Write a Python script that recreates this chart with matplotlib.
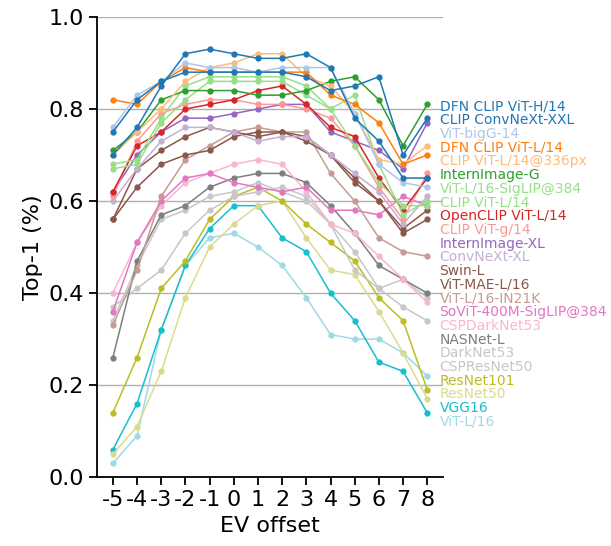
import matplotlib
matplotlib.use("Agg")
import matplotlib.pyplot as plt

plt.rcParams['axes.unicode_minus'] = False

ev_offsets = [-5, -4, -3, -2, -1, 0, 1, 2, 3, 4, 5, 6, 7, 8]

model_names = [
    "DFN CLIP ViT-H/14", "CLIP ConvNeXt-XXL", "ViT-bigG-14", "DFN CLIP ViT-L/14",
    "CLIP ViT-L/14@336px", "InternImage-G", "ViT-L/16-SigLIP@384", "CLIP ViT-L/14",
    "OpenCLIP ViT-L/14", "CLIP ViT-g/14", "InternImage-XL", "ConvNeXt-XL",
    "Swin-L", "ViT-MAE-L/16", "ViT-L/16-IN21K", "SoViT-400M-SigLIP@384",
    "CSPDarkNet53", "NASNet-L", "DarkNet53", "CSPResNet50",
    "ResNet101", "ResNet50", "VGG16", "ViT-L/16",
]

model_colors = [
    "#1f77b4", "#1f77b4", "#aec7e8", "#ff7f0e",
    "#ffbb78", "#2ca02c", "#98df8a", "#98df8a",
    "#d62728", "#ff9896", "#9467bd", "#c5b0d5",
    "#8c564b", "#8c564b", "#c49c94", "#e377c2",
    "#f7b6d2", "#7f7f7f", "#c7c7c7", "#c7c7c7",
    "#bcbd22", "#dbdb8d", "#17becf", "#9edae5",
]

# top-1 accuracy per EV offset (-5 ... 8)
dfn_vith14    = [0.70, 0.76, 0.85, 0.92, 0.93, 0.92, 0.91, 0.91, 0.92, 0.89, 0.78, 0.73, 0.65, 0.65]
clip_convnext = [0.75, 0.82, 0.86, 0.88, 0.88, 0.88, 0.88, 0.88, 0.87, 0.84, 0.85, 0.87, 0.70, 0.78]
vit_bigg      = [0.76, 0.83, 0.86, 0.90, 0.89, 0.89, 0.88, 0.89, 0.89, 0.89, 0.79, 0.68, 0.64, 0.63]
dfn_vitl14    = [0.82, 0.81, 0.86, 0.89, 0.88, 0.88, 0.88, 0.88, 0.88, 0.83, 0.81, 0.77, 0.68, 0.70]
clip_l14_336  = [0.70, 0.75, 0.80, 0.86, 0.89, 0.90, 0.92, 0.92, 0.87, 0.85, 0.79, 0.69, 0.68, 0.72]
internimage_g = [0.71, 0.75, 0.82, 0.84, 0.84, 0.84, 0.83, 0.83, 0.84, 0.86, 0.87, 0.82, 0.72, 0.81]
siglip_l16    = [0.68, 0.69, 0.78, 0.85, 0.87, 0.87, 0.87, 0.87, 0.85, 0.80, 0.83, 0.68, 0.57, 0.60]
clip_l14      = [0.67, 0.68, 0.77, 0.82, 0.86, 0.86, 0.86, 0.86, 0.83, 0.80, 0.72, 0.64, 0.59, 0.59]
openclip_l14  = [0.62, 0.72, 0.75, 0.80, 0.81, 0.82, 0.84, 0.85, 0.81, 0.76, 0.74, 0.65, 0.58, 0.65]
clip_g14      = [0.61, 0.73, 0.79, 0.81, 0.82, 0.82, 0.81, 0.81, 0.80, 0.78, 0.72, 0.63, 0.56, 0.66]
internimage_xl = [0.62, 0.70, 0.75, 0.78, 0.78, 0.79, 0.80, 0.81, 0.81, 0.75, 0.73, 0.71, 0.67, 0.77]
convnext_xl   = [0.60, 0.67, 0.73, 0.76, 0.76, 0.75, 0.73, 0.74, 0.74, 0.70, 0.66, 0.62, 0.55, 0.61]
swin_l        = [0.56, 0.67, 0.71, 0.74, 0.76, 0.75, 0.74, 0.75, 0.73, 0.70, 0.65, 0.60, 0.54, 0.58]
vit_mae       = [0.56, 0.63, 0.68, 0.70, 0.71, 0.74, 0.75, 0.75, 0.74, 0.70, 0.64, 0.60, 0.53, 0.56]
vit_in21k     = [0.33, 0.45, 0.61, 0.69, 0.72, 0.75, 0.76, 0.75, 0.75, 0.66, 0.60, 0.52, 0.49, 0.48]
sovit         = [0.36, 0.51, 0.60, 0.65, 0.66, 0.64, 0.63, 0.62, 0.63, 0.58, 0.58, 0.57, 0.61, 0.59]
cspdarknet53  = [0.40, 0.51, 0.59, 0.64, 0.66, 0.68, 0.69, 0.68, 0.62, 0.55, 0.53, 0.48, 0.43, 0.38]
nasnet_l      = [0.26, 0.47, 0.57, 0.59, 0.63, 0.65, 0.66, 0.66, 0.64, 0.59, 0.53, 0.46, 0.43, 0.40]
darknet53     = [0.34, 0.46, 0.56, 0.58, 0.61, 0.62, 0.64, 0.62, 0.60, 0.55, 0.49, 0.41, 0.43, 0.39]
cspresnet50   = [0.37, 0.41, 0.45, 0.53, 0.58, 0.61, 0.62, 0.63, 0.61, 0.55, 0.45, 0.41, 0.37, 0.34]
resnet101     = [0.14, 0.26, 0.41, 0.47, 0.56, 0.61, 0.63, 0.60, 0.55, 0.51, 0.47, 0.39, 0.34, 0.19]
resnet50      = [0.05, 0.11, 0.23, 0.39, 0.50, 0.55, 0.59, 0.60, 0.52, 0.45, 0.44, 0.36, 0.27, 0.17]
vgg16         = [0.06, 0.16, 0.32, 0.46, 0.54, 0.59, 0.59, 0.52, 0.49, 0.40, 0.34, 0.25, 0.23, 0.14]
vit_l16       = [0.03, 0.09, 0.32, 0.46, 0.52, 0.53, 0.50, 0.46, 0.39, 0.31, 0.30, 0.30, 0.27, 0.22]

all_scores = [
    dfn_vith14, clip_convnext, vit_bigg, dfn_vitl14, clip_l14_336, internimage_g,
    siglip_l16, clip_l14, openclip_l14, clip_g14, internimage_xl, convnext_xl,
    swin_l, vit_mae, vit_in21k, sovit, cspdarknet53, nasnet_l, darknet53,
    cspresnet50, resnet101, resnet50, vgg16, vit_l16,
]

fig = plt.figure(figsize=(6.11, 5.46), dpi=100)
ax = fig.add_axes([0.159, 0.126, 0.566, 0.843])

# draw the bottom of the legend order first so the top models sit on top
for name, col, scores in reversed(list(zip(model_names, model_colors, all_scores))):
    ax.plot(ev_offsets, scores, color=col, marker='o', markersize=3.5,
            linewidth=1.1, label=name)

ax.set_ylim(0, 1)
ax.set_xticks(ev_offsets)
ax.set_yticks([0.0, 0.2, 0.4, 0.6, 0.8, 1.0])
ax.tick_params(labelsize=16, width=1.3, length=6)
ax.set_xlabel("EV offset", fontsize=16)
ax.set_ylabel("Top-1 (%)", fontsize=16)
ax.yaxis.grid(True, color="#b0b0b0", linewidth=1.0)
ax.set_axisbelow(True)
for s in ["top", "right"]:
    ax.spines[s].set_visible(False)
for s in ["left", "bottom"]:
    ax.spines[s].set_linewidth(1.3)

handles, labels = ax.get_legend_handles_labels()
leg = ax.legend(handles[::-1], labels[::-1], loc='center left',
                bbox_to_anchor=(0.99, 0.463), frameon=False, fontsize=10,
                handlelength=0, handletextpad=0, labelspacing=-0.02,
                borderaxespad=0, borderpad=0, labelcolor='linecolor')
for h in leg.legend_handles:
    h.set_visible(False)

fig.savefig("out.png", dpi=100)
